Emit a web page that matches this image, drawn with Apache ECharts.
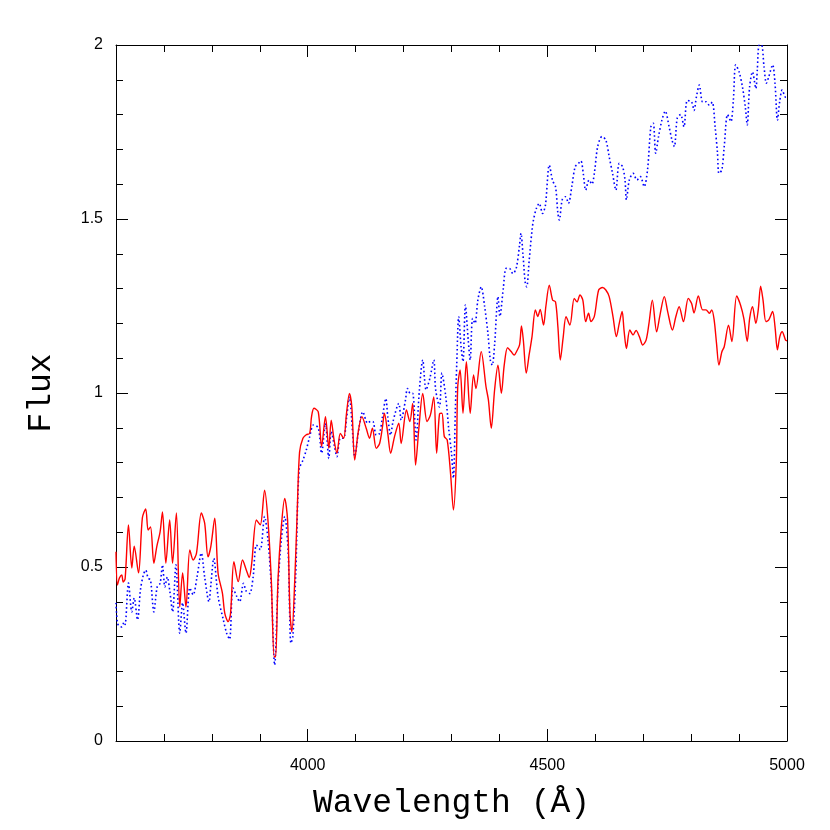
<!DOCTYPE html>
<html>
<head>
<meta charset="utf-8">
<script src="https://cdn.jsdelivr.net/npm/echarts@6/dist/echarts.min.js"></script>
<style>
  html, body { margin: 0; padding: 0; background: #fff; }
  #main { width: 830px; height: 830px; }
</style>
</head>
<body>
<div id="main"></div>
<script>
// wavelength (A) / flux
var redWave = [3600, 3603, 3607, 3612, 3615, 3619, 3626, 3633, 3638, 3647, 3655, 3662, 3667, 3672, 3679, 3685, 3692, 3697, 3704, 3712,
    3718, 3726, 3733, 3739, 3746, 3754, 3761, 3768, 3778, 3785, 3792, 3798, 3806, 3813, 3822, 3827, 3834, 3839, 3846, 3855,
    3864, 3872, 3878, 3883, 3893, 3901, 3910, 3917, 3924, 3930, 3933, 3938, 3945, 3952, 3958, 3963, 3967, 3973, 3978, 3983,
    3990, 3997, 4004, 4008, 4013, 4022, 4029, 4037, 4044, 4049, 4055, 4061, 4068, 4075, 4081, 4087, 4092, 4098, 4105, 4113,
    4122, 4129, 4135, 4143, 4150, 4156, 4160, 4167, 4173, 4181, 4190, 4195, 4206, 4213, 4219, 4225, 4232, 4240, 4249, 4256,
    4263, 4269, 4275, 4280, 4285, 4291, 4298, 4304, 4310, 4313, 4318, 4324, 4331, 4339, 4346, 4351, 4362, 4372, 4377, 4383,
    4390, 4397, 4404, 4410, 4417, 4424, 4431, 4436, 4442, 4446, 4450, 4456, 4462, 4468, 4475, 4480, 4485, 4492, 4497, 4504,
    4511, 4517, 4522, 4527, 4533, 4539, 4547, 4556, 4562, 4568, 4574, 4580, 4586, 4591, 4598, 4607, 4615, 4622, 4629, 4637,
    4644, 4650, 4656, 4660, 4665, 4672, 4679, 4685, 4692, 4699, 4706, 4712, 4719, 4728, 4735, 4744, 4751, 4761, 4768, 4775,
    4784, 4794, 4801, 4806, 4815, 4824, 4831, 4838, 4843, 4848, 4853, 4858, 4864, 4869, 4878, 4885, 4895, 4903, 4910, 4917,
    4922, 4928, 4935, 4940, 4945, 4950, 4956, 4962, 4970, 4975, 4980, 4985, 4990, 4997, 5000];
var redFlux = [0.544, 0.448, 0.468, 0.477, 0.457, 0.466, 0.621, 0.497, 0.560, 0.483, 0.641, 0.667, 0.606, 0.615, 0.511, 0.558, 0.601, 0.658, 0.511, 0.635,
    0.511, 0.655, 0.385, 0.483, 0.385, 0.549, 0.520, 0.540, 0.655, 0.626, 0.529, 0.560, 0.640, 0.482, 0.425, 0.367, 0.343, 0.367, 0.515, 0.458,
    0.520, 0.491, 0.470, 0.509, 0.635, 0.621, 0.721, 0.635, 0.463, 0.242, 0.242, 0.463, 0.616, 0.697, 0.635, 0.367, 0.314, 0.463, 0.655, 0.830,
    0.870, 0.880, 0.884, 0.932, 0.956, 0.946, 0.846, 0.932, 0.841, 0.922, 0.865, 0.827, 0.884, 0.870, 0.942, 0.999, 0.960, 0.807, 0.884, 0.932,
    0.899, 0.870, 0.899, 0.841, 0.855, 0.903, 0.942, 0.884, 0.827, 0.874, 0.913, 0.855, 0.951, 0.918, 0.970, 0.793, 0.900, 0.999, 0.918, 0.937,
    0.989, 0.827, 0.940, 0.942, 0.875, 0.865, 0.769, 0.664, 0.800, 1.018, 1.066, 0.942, 1.090, 0.942, 1.052, 1.013, 1.119, 1.018, 0.980, 0.899,
    1.010, 1.080, 0.999, 1.080, 1.130, 1.120, 1.109, 1.120, 1.138, 1.193, 1.150, 1.057, 1.110, 1.162, 1.239, 1.220, 1.240, 1.195, 1.250, 1.310,
    1.267, 1.262, 1.190, 1.095, 1.160, 1.219, 1.195, 1.272, 1.262, 1.282, 1.267, 1.205, 1.229, 1.205, 1.220, 1.296, 1.303, 1.296, 1.277, 1.219,
    1.162, 1.200, 1.234, 1.180, 1.128, 1.181, 1.167, 1.180, 1.162, 1.138, 1.152, 1.200, 1.267, 1.176, 1.224, 1.277, 1.234, 1.181, 1.219, 1.248,
    1.205, 1.272, 1.257, 1.230, 1.279, 1.239, 1.239, 1.229, 1.239, 1.210, 1.142, 1.080, 1.118, 1.133, 1.195, 1.148, 1.279, 1.253, 1.214, 1.148,
    1.214, 1.248, 1.200, 1.239, 1.307, 1.267, 1.205, 1.210, 1.234, 1.190, 1.124, 1.162, 1.176, 1.152, 1.150];

var blueWave = [3600, 3603, 3607, 3612, 3617, 3619, 3626, 3633, 3638, 3645, 3651, 3657, 3662, 3667, 3672, 3679, 3686, 3692, 3697, 3702,
    3707, 3712, 3718, 3725, 3733, 3739, 3746, 3754, 3761, 3769, 3778, 3785, 3794, 3798, 3804, 3813, 3824, 3831, 3837, 3844,
    3852, 3858, 3866, 3872, 3879, 3886, 3893, 3901, 3910, 3917, 3924, 3931, 3938, 3945, 3952, 3959, 3965, 3969, 3975, 3982,
    3990, 3997, 4004, 4012, 4022, 4029, 4037, 4044, 4049, 4056, 4061, 4068, 4075, 4081, 4087, 4094, 4098, 4107, 4115, 4125,
    4131, 4136, 4143, 4150, 4156, 4163, 4167, 4173, 4178, 4190, 4195, 4204, 4208, 4214, 4219, 4226, 4233, 4240, 4247, 4255,
    4263, 4267, 4275, 4280, 4288, 4294, 4300, 4304, 4308, 4311, 4315, 4320, 4324, 4329, 4335, 4339, 4344, 4349, 4355, 4362,
    4369, 4376, 4381, 4385, 4390, 4397, 4401, 4408, 4414, 4421, 4428, 4435, 4442, 4445, 4449, 4454, 4457, 4462, 4468, 4471,
    4477, 4483, 4490, 4496, 4504, 4511, 4517, 4522, 4525, 4531, 4538, 4544, 4551, 4558, 4565, 4570, 4575, 4580, 4587, 4593,
    4598, 4605, 4614, 4622, 4629, 4636, 4643, 4650, 4657, 4662, 4665, 4671, 4679, 4687, 4694, 4702, 4709, 4716, 4721, 4726,
    4732, 4739, 4746, 4754, 4760, 4765, 4771, 4778, 4785, 4792, 4801, 4806, 4811, 4817, 4824, 4831, 4838, 4844, 4850, 4855,
    4858, 4864, 4869, 4876, 4883, 4888, 4893, 4900, 4907, 4913, 4917, 4922, 4928, 4935, 4938, 4942, 4947, 4952, 4957, 4962,
    4970, 4975, 4980, 4985, 4990, 4997, 5000];
var blueFlux = [0.397, 0.339, 0.330, 0.328, 0.342, 0.335, 0.454, 0.371, 0.411, 0.348, 0.434, 0.477, 0.491, 0.468, 0.463, 0.371, 0.443, 0.453, 0.506, 0.443,
    0.471, 0.434, 0.371, 0.506, 0.310, 0.397, 0.310, 0.440, 0.420, 0.471, 0.540, 0.471, 0.400, 0.450, 0.525, 0.415, 0.348, 0.309, 0.292, 0.440,
    0.415, 0.400, 0.453, 0.430, 0.424, 0.470, 0.563, 0.550, 0.645, 0.580, 0.443, 0.218, 0.443, 0.580, 0.645, 0.550, 0.281, 0.300, 0.480, 0.780,
    0.807, 0.836, 0.874, 0.908, 0.900, 0.827, 0.913, 0.812, 0.890, 0.846, 0.817, 0.870, 0.870, 0.928, 0.989, 0.880, 0.817, 0.900, 0.946, 0.913,
    0.918, 0.918, 0.879, 0.884, 0.932, 0.984, 0.932, 0.879, 0.918, 0.970, 0.922, 0.980, 1.013, 0.999, 0.999, 0.865, 1.009, 1.095, 1.009, 1.043,
    1.095, 1.009, 0.960, 1.057, 0.990, 0.900, 0.827, 0.755, 0.950, 1.085, 1.219, 1.133, 1.090, 1.253, 1.150, 1.095, 1.214, 1.200, 1.267, 1.305,
    1.250, 1.171, 1.095, 1.080, 1.140, 1.277, 1.220, 1.300, 1.358, 1.358, 1.343, 1.358, 1.425, 1.459, 1.400, 1.315, 1.305, 1.380, 1.468, 1.497,
    1.530, 1.545, 1.516, 1.540, 1.655, 1.610, 1.593, 1.516, 1.497, 1.555, 1.564, 1.545, 1.593, 1.650, 1.660, 1.667, 1.630, 1.583, 1.612, 1.600,
    1.631, 1.708, 1.737, 1.727, 1.679, 1.631, 1.583, 1.660, 1.650, 1.612, 1.555, 1.612, 1.631, 1.612, 1.622, 1.593, 1.641, 1.765, 1.775, 1.689,
    1.737, 1.784, 1.810, 1.765, 1.727, 1.708, 1.790, 1.800, 1.765, 1.841, 1.836, 1.812, 1.851, 1.885, 1.836, 1.837, 1.827, 1.836, 1.765, 1.689,
    1.631, 1.641, 1.708, 1.800, 1.780, 1.840, 1.943, 1.923, 1.880, 1.822, 1.770, 1.880, 1.923, 1.875, 1.928, 2.000, 2.000, 1.938, 1.890, 1.909,
    1.943, 1.890, 1.784, 1.840, 1.871, 1.850, 1.850];

var xMajorTicks = [4000, 4500, 5000];

function zip(xs, ys) {
    var out = [];
    for (var i = 0; i < xs.length; i++) {
        out.push([xs[i], ys[i]]);
    }
    return out;
}

var myChart = echarts.init(document.getElementById('main'), null, {renderer: 'canvas'});

var black = '#000';
var labelFont = {color: black, fontFamily: 'Liberation Sans', fontSize: 16};
var titleFont = {color: black, fontFamily: 'Liberation Mono', fontSize: 33};

function plainNum(v) {
    return String(v);
}

function majorX(pos, showLabel) {
    return {
        type: 'value', position: pos, min: 3600, max: 5000,
        axisLine: {show: true, onZero: false, lineStyle: {color: black, width: 1}},
        axisTick: {show: true, inside: true, length: 12, customValues: xMajorTicks, lineStyle: {color: black}},
        axisLabel: Object.assign({show: showLabel, margin: 17, customValues: xMajorTicks, formatter: plainNum}, labelFont),
        splitLine: {show: false}
    };
}

function minorX(pos) {
    return {
        type: 'value', position: pos, min: 3600, max: 5000, interval: 100,
        axisLine: {show: false, onZero: false},
        axisTick: {show: true, inside: true, length: 7, lineStyle: {color: black}},
        axisLabel: {show: false},
        splitLine: {show: false}
    };
}

function yAxisDef(pos, showLabel) {
    return {
        type: 'value', position: pos, min: 0, max: 2, interval: 0.5,
        axisLine: {show: true, onZero: false, lineStyle: {color: black, width: 1}},
        axisTick: {show: true, inside: true, length: 12, lineStyle: {color: black}},
        minorTick: {show: true, splitNumber: 5, length: 7, lineStyle: {color: black}},
        axisLabel: Object.assign({show: showLabel, margin: 13, formatter: plainNum}, labelFont),
        splitLine: {show: false}
    };
}

var xBottom = majorX('bottom', true);
xBottom.name = 'Wavelength (\u00C5)';
xBottom.nameLocation = 'middle';
xBottom.nameGap = 46;
xBottom.nameTextStyle = titleFont;

var yLeft = yAxisDef('left', true);
yLeft.name = 'Flux';
yLeft.nameLocation = 'middle';
yLeft.nameGap = 58;
yLeft.nameTextStyle = titleFont;

var option = {
    animation: false,
    backgroundColor: '#fff',
    grid: {left: 116, right: 43, top: 45, bottom: 89, containLabel: false},
    xAxis: [xBottom, minorX('bottom'), majorX('top', false), minorX('top')],
    yAxis: [yLeft, yAxisDef('right', false)],
    series: [
        {
            name: 'blue', type: 'line', xAxisIndex: 0, yAxisIndex: 0,
            data: zip(blueWave, blueFlux),
            showSymbol: false, smooth: 0.3, clip: true,
            lineStyle: {color: '#0000ff', width: 1.6, type: [1.6, 2.6]}
        },
        {
            name: 'red', type: 'line', xAxisIndex: 0, yAxisIndex: 0,
            data: zip(redWave, redFlux),
            showSymbol: false, smooth: 0.3, clip: true,
            lineStyle: {color: '#ff0000', width: 1.4}
        }
    ]
};

myChart.setOption(option);
</script>
</body>
</html>
